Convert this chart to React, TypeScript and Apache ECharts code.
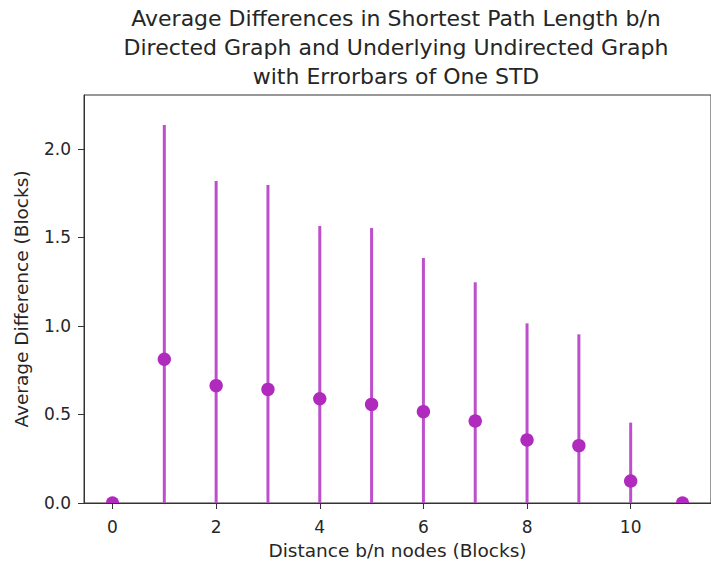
import React, { useEffect, useRef } from "react";
import * as echarts from "echarts";

const distances = [0, 1, 2, 3, 4, 5, 6, 7, 8, 9, 10, 11];
const meanDiff = [0, 0.812, 0.663, 0.642, 0.589, 0.557, 0.516, 0.463, 0.356, 0.324, 0.124, 0];
const stdDiff = [0, 1.324, 1.156, 1.155, 0.976, 0.997, 0.868, 0.784, 0.659, 0.629, 0.33, 0];
const xTicks = [0, 2, 4, 6, 8, 10];
const yTicks = [0, 0.5, 1.0, 1.5, 2.0];

const titleText =
  "Average Differences in Shortest Path Length b/n\nDirected Graph and Underlying Undirected Graph\nwith Errorbars of One STD";

export default function App() {
  const ref = useRef<HTMLDivElement>(null);
  useEffect(() => {
    if (!ref.current) return;
    const chart = echarts.init(ref.current, null, { renderer: "svg" });
    const font = "DejaVu Sans";
    const textColor = "#262626";
    const data = distances.map((d, i) => [d, meanDiff[i], stdDiff[i]]);
    chart.setOption({
      animation: false,
      backgroundColor: "#ffffff",
      textStyle: { fontFamily: font },
      grid: {
        left: 84,
        top: 95,
        right: -2,
        bottom: 63,
        show: true,
        borderColor: "#333333",
        borderWidth: 1,
        containLabel: false,
      },
      graphic: [
        {
          type: "text",
          x: 396,
          y: 4,
          style: {
            text: titleText,
            fontFamily: font,
            fontSize: 22,
            lineHeight: 29,
            fill: textColor,
            textAlign: "center",
            textVerticalAlign: "top",
          },
        },
      ],
      xAxis: {
        type: "value",
        min: -0.55,
        max: 11.55,
        name: "Distance b/n nodes (Blocks)",
        nameLocation: "middle",
        nameGap: 38,
        nameTextStyle: { fontFamily: font, fontSize: 18.5, color: textColor },
        splitLine: { show: false },
        axisLine: { show: true, onZero: false, lineStyle: { color: "#333333", width: 1 } },
        axisTick: {
          show: true,
          length: 6,
          inside: false,
          customValues: xTicks,
          lineStyle: { color: "#333333" },
        },
        axisLabel: {
          customValues: xTicks,
          fontFamily: font,
          fontSize: 17,
          color: textColor,
          margin: 15,
          formatter: (v: number) => String(v),
        },
      },
      yAxis: {
        type: "value",
        min: 0,
        max: 2.305,
        name: "Average Difference (Blocks)",
        nameLocation: "middle",
        nameGap: 53,
        nameRotate: 90,
        nameTextStyle: { fontFamily: font, fontSize: 18.5, color: textColor },
        splitLine: { show: false },
        axisLine: { show: true, onZero: false, lineStyle: { color: "#333333", width: 1 } },
        axisTick: {
          show: true,
          length: 6,
          customValues: yTicks,
          lineStyle: { color: "#333333" },
        },
        axisLabel: {
          customValues: yTicks,
          fontFamily: font,
          fontSize: 17,
          color: textColor,
          margin: 13,
          formatter: (v: number) => v.toFixed(1),
        },
      },
      series: [
        {
          type: "custom",
          clip: true,
          data,
          encode: { x: 0, y: 1 },
          renderItem: (params: any, api: any) => {
            const x = api.value(0);
            const m = api.value(1);
            const s = api.value(2);
            const children: any[] = [];
            const base = api.coord([x, 0]);
            if (s > 0) {
              const lo = api.coord([x, Math.max(0, m - s)]);
              const hi = api.coord([x, m + s]);
              children.push({
                type: "line",
                shape: { x1: lo[0], y1: lo[1], x2: hi[0], y2: hi[1] },
                style: { stroke: "#bd4fcd", lineWidth: 3 },
              });
            }
            const c = api.coord([x, m]);
            if (c[1] >= base[1] - 0.01) {
              // marker centred on the bottom spine: only the part inside the axes shows
              children.push({
                type: "sector",
                shape: {
                  cx: c[0],
                  cy: c[1],
                  r0: 0,
                  r: 6.7,
                  startAngle: Math.PI,
                  endAngle: 2 * Math.PI,
                  clockwise: true,
                },
                style: { fill: "#b02abd" },
              });
            } else {
              children.push({
                type: "circle",
                shape: { cx: c[0], cy: c[1], r: 6.7 },
                style: { fill: "#b02abd" },
              });
            }
            return { type: "group", children };
          },
        },
      ],
    });
    return () => chart.dispose();
  }, []);
  return (
    <div
      ref={ref}
      style={{ position: "fixed", left: 0, top: 0, width: 711, height: 566 }}
    />
  );
}
